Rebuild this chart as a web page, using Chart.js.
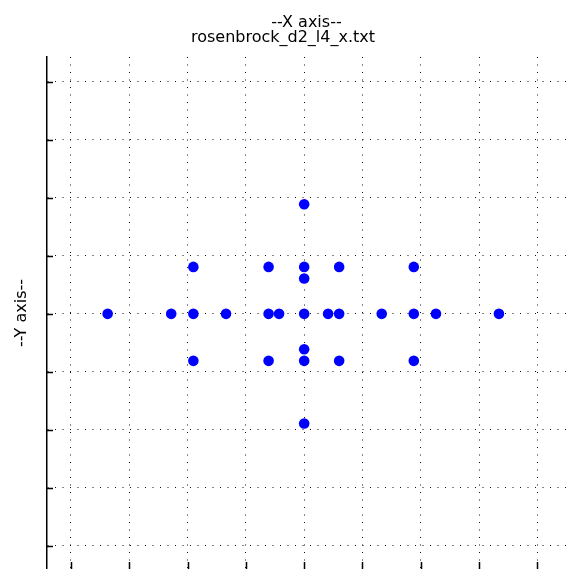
<!DOCTYPE html>
<html>
<head>
<meta charset="utf-8">
<script src="https://cdn.jsdelivr.net/npm/chart.js@4/dist/chart.umd.min.js"></script>
<style>
  html, body { margin: 0; padding: 0; background: #fff; }
  canvas { display: block; }
</style>
</head>
<body>
<canvas id="c" width="566" height="569"></canvas>
<script>
// ---- data ----
const titleLine1 = '--X axis--';
const titleLine2 = 'rosenbrock_d2_l4_x.txt';
const yTitle = '--Y axis--';

// grid tick values (no tick labels are shown in the reference)
const xTickValues = [-4, -3, -2, -1, 0, 1, 2, 3, 4];
const yTickValues = [-4, -3, -2, -1, 0, 1, 2, 3, 4];

// sparse grid points
const pointsX = [-3.37, -2.28, -1.90, -1.34, -0.61, -0.43, 0, 0.41, 0.60, 1.33, 1.88, 2.26, 3.34,
                 -1.90, -0.61, 0, 0.60, 1.88,
                 -1.90, -0.61, 0, 0.60, 1.88,
                 0, 0, 0, 0];
const pointsY = [0, 0, 0, 0, 0, 0, 0, 0, 0, 0, 0, 0, 0,
                 0.81, 0.81, 0.81, 0.81, 0.81,
                 -0.81, -0.81, -0.81, -0.81, -0.81,
                 1.89, 0.61, -0.61, -1.89];

const xRange = [-4.41, 4.49];
const yRange = [-4.40, 4.43];

const points = pointsX.map((x, i) => ({ x: x, y: pointsY[i] }));

const FONT = 'DejaVu Sans';

const inwardTicks = {
  id: 'inwardTicks',
  beforeDatasetsDraw(chart) {
    const { ctx, chartArea, scales } = chart;
    const xs = scales.x, ys = scales.y;
    ctx.save();
    ctx.strokeStyle = '#000';
    ctx.lineWidth = 1.5;
    ctx.beginPath();
    ys.ticks.forEach(t => {
      const py = Math.round(ys.getPixelForValue(t.value)) + 0.5;
      ctx.moveTo(chartArea.left, py);
      ctx.lineTo(chartArea.left + 6, py);
    });
    xs.ticks.forEach(t => {
      const px = Math.round(xs.getPixelForValue(t.value)) + 0.5;
      ctx.moveTo(px, chartArea.bottom);
      ctx.lineTo(px, chartArea.bottom - 7);
    });
    ctx.stroke();
    ctx.restore();
  }
};

new Chart(document.getElementById('c'), {
  type: 'scatter',
  data: {
    datasets: [{
      data: points,
      pointRadius: 5.3,
      pointHoverRadius: 5.3,
      pointBackgroundColor: '#0000ff',
      pointBorderWidth: 0,
      borderColor: '#0000ff',
      showLine: false,
      clip: false
    }]
  },
  options: {
    responsive: false,
    animation: false,
    events: [],
    layout: { padding: 0, autoPadding: false },
    plugins: {
      legend: { display: false },
      tooltip: { enabled: false },
      title: {
        display: true,
        text: titleLine1,
        fullSize: false,
        color: '#000',
        font: { family: FONT, size: 16, weight: 'normal', lineHeight: 0.9375 },
        padding: { top: 15.5, bottom: 0 }
      },
      subtitle: {
        display: true,
        text: titleLine2,
        fullSize: true,
        color: '#000',
        font: { family: FONT, size: 16, weight: 'normal', lineHeight: 0.9375 },
        padding: { top: 0, bottom: 11.5 }
      }
    },
    scales: {
      x: {
        type: 'linear',
        min: xRange[0],
        max: xRange[1],
        afterBuildTicks: s => { s.ticks = xTickValues.map(v => ({ value: v })); },
        afterFit: s => { s.height = 0; },
        ticks: { display: false },
        grid: { color: '#111', lineWidth: 1, drawTicks: false },
        border: { display: false, dash: [1, 6.5] }
      },
      y: {
        type: 'linear',
        min: yRange[0],
        max: yRange[1],
        afterBuildTicks: s => { s.ticks = yTickValues.map(v => ({ value: v })); },
        afterFit: s => { s.width = 47; },
        ticks: { display: false },
        grid: { color: '#111', lineWidth: 1, drawTicks: false },
        border: { display: true, color: '#000', width: 1.5, dash: [1, 6.5] },
        title: {
          display: true,
          text: yTitle,
          color: '#000',
          font: { family: FONT, size: 16, weight: 'normal', lineHeight: 0.9375 },
          padding: { top: 14, bottom: 0 }
        }
      }
    }
  },
  plugins: [inwardTicks]
});
</script>
</body>
</html>
